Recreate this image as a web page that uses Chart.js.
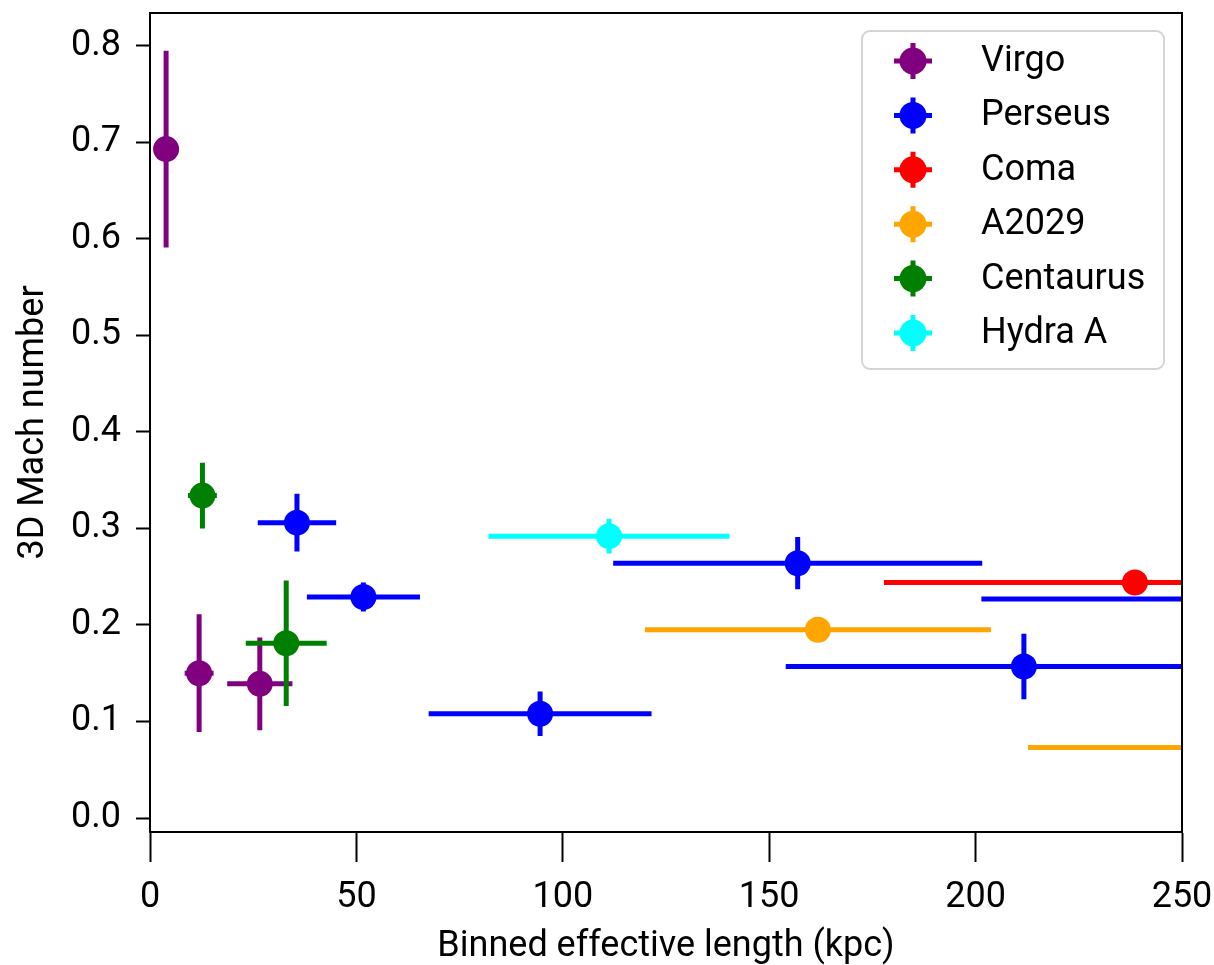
<!DOCTYPE html>
<html lang="en">
<head>
    <meta charset="UTF-8">
    <title>3D Mach number vs binned effective length</title>
    <style>
        body {
            margin: 0;
            background-color: #ffffff;
        }
        .chart-box {
            width: 1214px;
            height: 965px;
        }
    </style>
</head>
<body>
    <div class="chart-box">
        <canvas id="machChart" width="1214" height="965"></canvas>
    </div>

    <script src="https://cdn.jsdelivr.net/npm/chart.js"></script>
    <script>
        // values (kpc, Mach number, symmetric errors)
        const virgoX = [3.9, 11.9, 26.6];
        const virgoY = [0.693, 0.150, 0.139];
        const virgoXErr = [2.0, 3.5, 7.9];
        const virgoYErr = [0.102, 0.061, 0.048];

        const perseusX = [35.6, 51.7, 94.5, 156.9, 211.7, 280.0];
        const perseusY = [0.306, 0.229, 0.108, 0.264, 0.157, 0.227];
        const perseusXErr = [9.5, 13.7, 27.0, 44.7, 57.7, 78.6];
        const perseusYErr = [0.030, 0.015, 0.023, 0.027, 0.034, 0.030];

        const comaX = [238.6];
        const comaY = [0.244];
        const comaXErr = [60.8];
        const comaYErr = [0.008];

        const a2029X = [161.8, 287.0];
        const a2029Y = [0.195, 0.073];
        const a2029XErr = [41.9, 74.3];
        const a2029YErr = [0.008, 0.010];

        const centaurusX = [12.7, 33.0];
        const centaurusY = [0.334, 0.181];
        const centaurusXErr = [3.5, 9.8];
        const centaurusYErr = [0.034, 0.065];

        const hydraX = [111.2];
        const hydraY = [0.292];
        const hydraXErr = [29.2];
        const hydraYErr = [0.018];

        const xTicks = [0, 50, 100, 150, 200, 250];
        const yTicks = [0.0, 0.1, 0.2, 0.3, 0.4, 0.5, 0.6, 0.7, 0.8];

        const clusters = [
            { label: 'Virgo', color: '#800080', x: virgoX, y: virgoY, xErr: virgoXErr, yErr: virgoYErr },
            { label: 'Perseus', color: '#0000ff', x: perseusX, y: perseusY, xErr: perseusXErr, yErr: perseusYErr },
            { label: 'Coma', color: '#ff0000', x: comaX, y: comaY, xErr: comaXErr, yErr: comaYErr },
            { label: 'A2029', color: '#ffa500', x: a2029X, y: a2029Y, xErr: a2029XErr, yErr: a2029YErr },
            { label: 'Centaurus', color: '#008000', x: centaurusX, y: centaurusY, xErr: centaurusXErr, yErr: centaurusYErr },
            { label: 'Hydra A', color: '#00ffff', x: hydraX, y: hydraY, xErr: hydraXErr, yErr: hydraYErr }
        ];

        const FONT = 'Roboto';
        const FONT_SIZE = 36;
        const BAR_WIDTH = 5;

        // error bars, drawn right before each dataset's markers
        const errorBars = {
            id: 'errorBars',
            beforeDatasetDraw(chart, args) {
                const c = clusters[args.index];
                const { ctx, chartArea, scales } = chart;
                ctx.save();
                ctx.beginPath();
                ctx.rect(chartArea.left, chartArea.top, chartArea.right - chartArea.left, chartArea.bottom - chartArea.top);
                ctx.clip();
                ctx.strokeStyle = c.color;
                ctx.lineWidth = BAR_WIDTH;
                ctx.lineCap = 'butt';
                c.x.forEach((xv, i) => {
                    const yv = c.y[i];
                    const px = scales.x.getPixelForValue(xv);
                    const py = scales.y.getPixelForValue(yv);
                    ctx.beginPath();
                    ctx.moveTo(scales.x.getPixelForValue(xv - c.xErr[i]), py);
                    ctx.lineTo(scales.x.getPixelForValue(xv + c.xErr[i]), py);
                    ctx.moveTo(px, scales.y.getPixelForValue(yv - c.yErr[i]));
                    ctx.lineTo(px, scales.y.getPixelForValue(yv + c.yErr[i]));
                    ctx.stroke();
                });
                ctx.restore();
            }
        };

        // top and right spines plus the boxed legend in the upper right
        const frameAndLegend = {
            id: 'frameAndLegend',
            afterDraw(chart) {
                const { ctx, chartArea } = chart;
                ctx.save();
                ctx.strokeStyle = '#000';
                ctx.lineWidth = 2;
                ctx.beginPath();
                ctx.moveTo(chartArea.left, chartArea.top);
                ctx.lineTo(chartArea.right, chartArea.top);
                ctx.lineTo(chartArea.right, chartArea.bottom);
                ctx.stroke();

                // legend box
                const bx = 862, by = 31, bw = 302, bh = 338, r = 8;
                ctx.beginPath();
                ctx.roundRect(bx, by, bw, bh, r);
                ctx.fillStyle = 'rgba(255,255,255,0.8)';
                ctx.fill();
                ctx.strokeStyle = '#d4d4d4';
                ctx.lineWidth = 2;
                ctx.stroke();

                ctx.font = FONT_SIZE + 'px ' + FONT;
                ctx.textBaseline = 'middle';
                ctx.textAlign = 'left';
                clusters.forEach((c, i) => {
                    const cy = 61 + i * 54.4;
                    const cx = 913;
                    ctx.strokeStyle = c.color;
                    ctx.lineWidth = BAR_WIDTH;
                    ctx.beginPath();
                    ctx.moveTo(cx - 19, cy);
                    ctx.lineTo(cx + 19, cy);
                    ctx.moveTo(cx, cy - 18);
                    ctx.lineTo(cx, cy + 18);
                    ctx.stroke();
                    ctx.fillStyle = c.color;
                    ctx.beginPath();
                    ctx.arc(cx, cy, 13.5, 0, Math.PI * 2);
                    ctx.fill();
                    ctx.fillStyle = '#000';
                    ctx.fillText(c.label, 981, cy + 1);
                });
                ctx.restore();
            }
        };

        const datasets = clusters.map((c, i) => ({
            label: c.label,
            data: c.x.map((xv, j) => ({ x: xv, y: c.y[j] })),
            backgroundColor: c.color,
            borderWidth: 0,
            pointRadius: 13,
            pointHoverRadius: 13,
            order: clusters.length - i
        }));

        const axisTicks = {
            color: '#000',
            font: { family: FONT, size: FONT_SIZE }
        };

        const ctx = document.getElementById('machChart').getContext('2d');
        const machChart = new Chart(ctx, {
            type: 'scatter',
            data: { datasets: datasets },
            options: {
                responsive: false,
                devicePixelRatio: 1,
                animation: false,
                layout: {
                    padding: { top: 12, right: 32, left: 0, bottom: 0 }
                },
                plugins: {
                    legend: { display: false },
                    tooltip: { enabled: false }
                },
                scales: {
                    x: {
                        type: 'linear',
                        position: 'bottom',
                        min: 0,
                        max: 250,
                        afterBuildTicks: scale => {
                            scale.ticks = xTicks.map(v => ({ value: v }));
                        },
                        afterFit: scale => {
                            scale.height = 133;
                            scale.paddingLeft = 0;
                            scale.paddingRight = 0;
                        },
                        ticks: Object.assign({ padding: 14 }, axisTicks),
                        grid: {
                            display: true,
                            drawOnChartArea: false,
                            drawTicks: true,
                            tickLength: 30,
                            tickWidth: 2,
                            tickColor: '#000'
                        },
                        border: { display: true, color: '#000', width: 2 },
                        title: {
                            display: true,
                            text: 'Binned effective length (kpc)',
                            color: '#000',
                            font: { family: FONT, size: FONT_SIZE },
                            padding: { top: 0, bottom: -4 }
                        }
                    },
                    y: {
                        type: 'linear',
                        min: -0.0145,
                        max: 0.834,
                        afterBuildTicks: scale => {
                            scale.ticks = yTicks.map(v => ({ value: v }));
                        },
                        afterFit: scale => {
                            scale.width = 150;
                            scale.paddingTop = 0;
                            scale.paddingBottom = 0;
                        },
                        ticks: Object.assign({
                            padding: 15,
                            callback: v => Number(v).toFixed(1)
                        }, axisTicks),
                        grid: {
                            display: true,
                            drawOnChartArea: false,
                            drawTicks: true,
                            tickLength: 14,
                            tickWidth: 2,
                            tickColor: '#000'
                        },
                        border: { display: true, color: '#000', width: 2 },
                        title: {
                            display: true,
                            text: '3D Mach number',
                            color: '#000',
                            font: { family: FONT, size: FONT_SIZE },
                            padding: { top: 12, bottom: 0 }
                        }
                    }
                }
            },
            plugins: [errorBars, frameAndLegend]
        });
    </script>
</body>
</html>
